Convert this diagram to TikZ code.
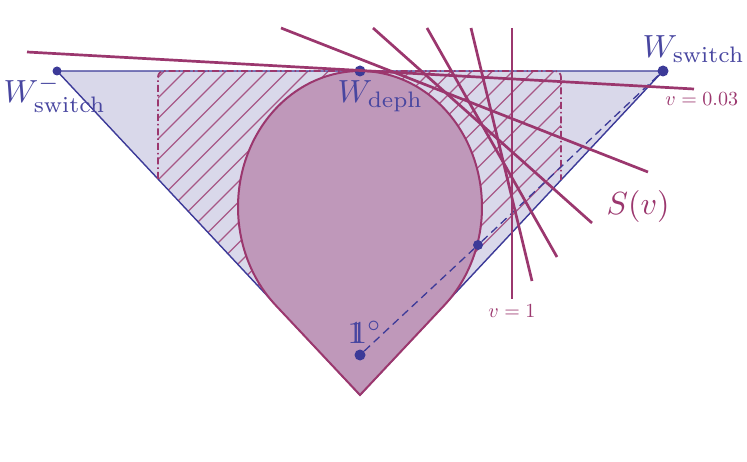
\documentclass[tikz,border=0pt]{standalone}
\definecolor{pinkline}{RGB}{155,55,110}
\definecolor{pinkfill}{RGB}{191,152,186}
\definecolor{trifill}{RGB}{217,216,234}
\definecolor{bluedot}{RGB}{60,58,152}
\definecolor{bluetext}{RGB}{72,70,160}
\newcommand{\dsone}{\rlap{$1$}\kern1.1pt$1$}
\begin{document}
\begin{tikzpicture}[x=1pt,y=-1pt,
  dot/.style={circle,fill=bluedot,inner sep=0pt,minimum size=#1},
  dot/.default=10pt,
  svline/.style={draw=pinkline,line width=2.7pt},
  hatchline/.style={draw=pinkline,line width=1.4pt,opacity=0.8},
  triedge/.style={draw=bluedot,line width=1.4pt},
  shapeedge/.style={draw=pinkline,fill=pinkfill,line width=2pt},
  bound/.style={draw=pinkline,line width=1.7pt,dash pattern=on 7pt off 3pt on 1.5pt off 3pt},
  pathdash/.style={draw=bluedot,line width=1.3pt,dash pattern=on 8pt off 5pt},
  biglabel/.style={text=bluetext,inner sep=0pt,anchor=base west,scale=3.2},
  pinklabel/.style={text=pinkline,inner sep=0pt,anchor=base west,scale=3.2},
  smalllabel/.style={text=pinkline,inner sep=0pt,anchor=base west,scale=2}]
\useasboundingbox (0,0) rectangle (747,462);
% triangle corners
\coordinate (L) at (57,71);
\coordinate (R) at (663,71);
\coordinate (B) at (360,395);
\fill[trifill] (L) -- (R) -- (B) -- cycle;
% hatching
\begin{scope}
\clip (158,71) -- (561,71) -- (561,180.1) -- (B) -- (158,179) -- cycle;
\foreach \c in {235.5,256,...,780} \draw[hatchline] ({\c-400},400) -- (\c,0);
\end{scope}
\draw[triedge] (L) -- (R) -- (B) -- cycle;
% teardrop
\draw[shapeedge] plot[domain=-46.2:226.2,samples=140] ({360+122*cos(\x)},{207-136*sin(\x)}) -- (B) -- cycle;
% dash-dot boundary
\coordinate (bl) at (158,179);
\coordinate (tl) at (158,71);
\coordinate (tr) at (561,71);
\coordinate (br) at (561,180);
\draw[bound,rounded corners=6pt] (bl) -- (tl) -- (tr) -- (br);
% dots
\node[dot=9pt] (wm) at (L) {};
\node[dot=11pt] (wp) at (R) {};
\node[dot=11pt] (wd) at (360,71) {};
\node[dot=11pt] (one) at (360,355) {};
\node[dot=10pt] (cross) at (478,245) {};
\draw[pathdash] (one) -- (cross) -- (wp);
% S(v) lines
\coordinate (a1) at (27,52);   \coordinate (a2) at (694,89);
\coordinate (b1) at (281,28);  \coordinate (b2) at (648,172);
\coordinate (c1) at (373,28);  \coordinate (c2) at (592,223);
\coordinate (d1) at (427,28);  \coordinate (d2) at (557,257);
\coordinate (e1) at (471,28);  \coordinate (e2) at (532,281);
\coordinate (f1) at (512,28);  \coordinate (f2) at (512,299);
\draw[svline] (a1) -- (a2);
\draw[svline] (b1) -- (b2);
\draw[svline] (c1) -- (c2);
\draw[svline] (d1) -- (d2);
\draw[svline] (e1) -- (e2);
\draw[svline] (f1) -- (f2);
% labels
\node[biglabel] (lwm) at (3,103) {$W^-_{\mathrm{switch}}$};
\node[biglabel] (lwd) at (337,103) {$W_{\mathrm{deph}}$};
\node[biglabel] (lwp) at (642,58) {$W_{\mathrm{switch}}$};
\node[biglabel] (lone) at (347,343) {\dsone$^\circ$};
\node[pinklabel] (lsv) at (606,215) {$S(v)$};
\node[smalllabel] (lv3) at (665,106) {$v=0.03$};
\node[smalllabel] (lv1) at (488,318) {$v=1$};
\end{tikzpicture}
\end{document}
